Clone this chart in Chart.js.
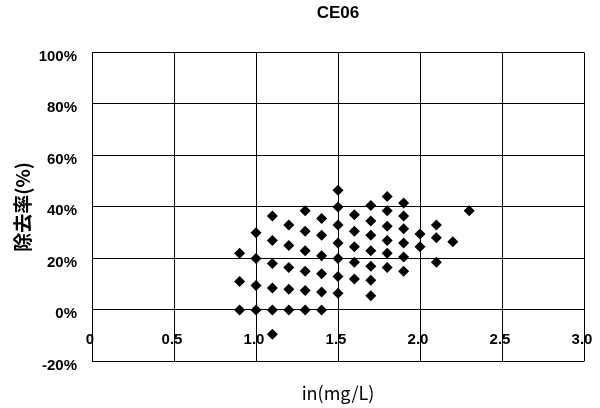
<!DOCTYPE html>
<html lang="ja">
<head>
<meta charset="UTF-8">
<title>CE06</title>
<style>
  html, body { margin: 0; padding: 0; background: #fff; }
  #wrap { width: 600px; height: 408px; }
</style>
<script src="https://cdn.jsdelivr.net/npm/chart.js"></script>
</head>
<body>
<div id="wrap"><canvas id="chart"></canvas></div>
<script>
const chartTitle = 'CE06';
const xTitle = 'in(mg/L)';
const yTitle = '除去率(%)';
const xTickLabels = ['0', '0.5', '1.0', '1.5', '2.0', '2.5', '3.0'];
const yTickLabels = ['-20%', '0%', '20%', '40%', '60%', '80%', '100%'];

// inflow concentration (mg/L) and removal rate (%)
const inValues = [
  0.9, 0.9, 0.9,
  1.0, 1.0, 1.0, 1.0,
  1.1, 1.1, 1.1, 1.1, 1.1, 1.1,
  1.2, 1.2, 1.2, 1.2, 1.2,
  1.3, 1.3, 1.3, 1.3, 1.3, 1.3,
  1.4, 1.4, 1.4, 1.4, 1.4, 1.4,
  1.5, 1.5, 1.5, 1.5, 1.5, 1.5, 1.5,
  1.6, 1.6, 1.6, 1.6, 1.6,
  1.7, 1.7, 1.7, 1.7, 1.7, 1.7, 1.7,
  1.8, 1.8, 1.8, 1.8, 1.8, 1.8,
  1.9, 1.9, 1.9, 1.9, 1.9, 1.9,
  2.0, 2.0,
  2.1, 2.1, 2.1,
  2.2,
  2.3
];
const removalRates = [
  22, 11, 0,
  30, 20, 9.5, 0,
  36.5, 27, 18, 8.5, 0, -9.5,
  33, 25, 16.5, 8, 0,
  38.5, 30.5, 23, 15, 7.5, 0,
  35.5, 29, 21, 14, 7, 0,
  46.5, 40, 33, 26, 20, 13, 6.5,
  37, 30.5, 24.5, 18.5, 12,
  40.5, 34.5, 29, 23, 17, 11.5, 5.5,
  44, 38.5, 32.5, 27, 22, 16.5,
  41.5, 36.5, 31.5, 26, 20.5, 15,
  29.5, 24.5,
  33, 28, 18.5,
  26.5,
  38.5
];

const tickFont = { family: 'Liberation Sans', size: 15, weight: 'bold' };

new Chart(document.getElementById('chart'), {
  type: 'scatter',
  data: {
    datasets: [{
      data: inValues.map((x, i) => ({ x: x, y: removalRates[i] })),
      pointStyle: 'rectRot',
      pointRadius: 5.5,
      pointBackgroundColor: '#000',
      pointBorderWidth: 0
    }]
  },
  options: {
    responsive: true,
    maintainAspectRatio: false,
    animation: false,
    devicePixelRatio: 1,
    layout: { padding: { left: 0, right: 16, top: 0, bottom: 0 } },
    scales: {
      x: {
        type: 'linear',
        min: 0,
        max: 3,
        position: { y: 0 },
        ticks: {
          stepSize: 0.5,
          autoSkip: false,
          maxRotation: 0,
          callback: (v, i) => xTickLabels[i],
          font: tickFont,
          color: '#000',
          padding: 21,
          labelOffset: -2
        },
        grid: { color: '#000', lineWidth: 1, drawTicks: false },
        border: { color: '#000', width: 1 },
        afterFit: (scale) => { scale.paddingLeft = 0; scale.paddingRight = 0; }
      },
      y: {
        min: -20,
        max: 100,
        ticks: {
          stepSize: 20,
          callback: (v, i) => yTickLabels[i],
          font: tickFont,
          color: '#000',
          padding: 15,
          labelOffset: 4
        },
        grid: { color: '#000', lineWidth: 1, drawTicks: false },
        border: { color: '#000', width: 1 },
        title: {
          display: true,
          text: yTitle,
          color: '#000',
          font: { family: 'Noto Sans CJK JP', size: 19, weight: 'bold' },
          padding: { top: 11, bottom: 0 }
        },
        afterFit: (scale) => { scale.width = 92; }
      }
    },
    plugins: {
      legend: { display: false },
      tooltip: { enabled: false },
      title: {
        display: true,
        text: chartTitle,
        fullSize: false,
        color: '#000',
        font: { family: 'Liberation Sans', size: 17, weight: 'bold' },
        padding: { top: 3, bottom: 29 }
      },
      subtitle: {
        display: true,
        text: xTitle,
        position: 'bottom',
        fullSize: false,
        color: '#000',
        font: { family: 'Noto Sans CJK JP', size: 18, weight: 'normal' },
        padding: { top: 21, bottom: 4 }
      }
    }
  }
});
</script>
</body>
</html>
